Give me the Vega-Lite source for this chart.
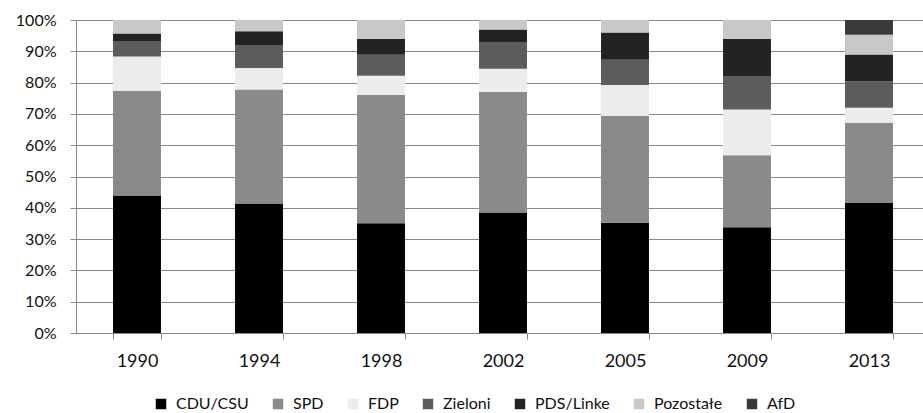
{
  "$schema": "https://vega.github.io/schema/vega-lite/v6.json",
  "autosize": "none",
  "width": 854,
  "height": 313,
  "padding": {"left": 76, "top": 20, "right": 0, "bottom": 80},
  "background": "white",
  "datasets": {
    "partyOrder": [
      {"party": "CDU/CSU", "rank": 1},
      {"party": "SPD", "rank": 2},
      {"party": "FDP", "rank": 3},
      {"party": "Zieloni", "rank": 4},
      {"party": "PDS/Linke", "rank": 5},
      {"party": "Pozostałe", "rank": 6},
      {"party": "AfD", "rank": 7}
    ]
  },
  "data": {
    "values": [
      {"year": "1990", "party": "CDU/CSU", "share": 43.8},
      {"year": "1990", "party": "SPD", "share": 33.5},
      {"year": "1990", "party": "FDP", "share": 11.0},
      {"year": "1990", "party": "Zieloni", "share": 5.0},
      {"year": "1990", "party": "PDS/Linke", "share": 2.4},
      {"year": "1990", "party": "Pozostałe", "share": 4.3},
      {"year": "1994", "party": "CDU/CSU", "share": 41.4},
      {"year": "1994", "party": "SPD", "share": 36.4},
      {"year": "1994", "party": "FDP", "share": 6.9},
      {"year": "1994", "party": "Zieloni", "share": 7.3},
      {"year": "1994", "party": "PDS/Linke", "share": 4.4},
      {"year": "1994", "party": "Pozostałe", "share": 3.6},
      {"year": "1998", "party": "CDU/CSU", "share": 35.1},
      {"year": "1998", "party": "SPD", "share": 40.9},
      {"year": "1998", "party": "FDP", "share": 6.2},
      {"year": "1998", "party": "Zieloni", "share": 6.7},
      {"year": "1998", "party": "PDS/Linke", "share": 5.1},
      {"year": "1998", "party": "Pozostałe", "share": 6.0},
      {"year": "2002", "party": "CDU/CSU", "share": 38.5},
      {"year": "2002", "party": "SPD", "share": 38.5},
      {"year": "2002", "party": "FDP", "share": 7.4},
      {"year": "2002", "party": "Zieloni", "share": 8.6},
      {"year": "2002", "party": "PDS/Linke", "share": 4.0},
      {"year": "2002", "party": "Pozostałe", "share": 3.0},
      {"year": "2005", "party": "CDU/CSU", "share": 35.2},
      {"year": "2005", "party": "SPD", "share": 34.2},
      {"year": "2005", "party": "FDP", "share": 9.8},
      {"year": "2005", "party": "Zieloni", "share": 8.1},
      {"year": "2005", "party": "PDS/Linke", "share": 8.7},
      {"year": "2005", "party": "Pozostałe", "share": 4.0},
      {"year": "2009", "party": "CDU/CSU", "share": 33.8},
      {"year": "2009", "party": "SPD", "share": 23.0},
      {"year": "2009", "party": "FDP", "share": 14.6},
      {"year": "2009", "party": "Zieloni", "share": 10.7},
      {"year": "2009", "party": "PDS/Linke", "share": 11.9},
      {"year": "2009", "party": "Pozostałe", "share": 6.0},
      {"year": "2013", "party": "CDU/CSU", "share": 41.5},
      {"year": "2013", "party": "SPD", "share": 25.7},
      {"year": "2013", "party": "FDP", "share": 4.8},
      {"year": "2013", "party": "Zieloni", "share": 8.4},
      {"year": "2013", "party": "PDS/Linke", "share": 8.6},
      {"year": "2013", "party": "Pozostałe", "share": 6.3},
      {"year": "2013", "party": "AfD", "share": 4.7}
    ]
  },
  "transform": [
    {"lookup": "party", "from": {"data": {"name": "partyOrder"}, "key": "party", "fields": ["rank"]}}
  ],
  "mark": {"type": "bar"},
  "encoding": {
    "x": {
      "field": "year",
      "type": "ordinal",
      "scale": {"paddingInner": 0.607, "paddingOuter": 0.3035},
      "axis": {
        "title": null,
        "labelAngle": 0,
        "tickBand": "extent",
        "tickSize": 6,
        "tickColor": "#888888",
        "domainColor": "#888888",
        "labelFontSize": 18,
        "labelPadding": 13,
        "labelColor": "#111111",
        "labelFont": "Lato"
      }
    },
    "y": {
      "field": "share",
      "type": "quantitative",
      "stack": "normalize",
      "scale": {"domain": [0, 1]},
      "axis": {
        "title": null,
        "format": ".0%",
        "values": [0, 0.1, 0.2, 0.3, 0.4, 0.5, 0.6, 0.7, 0.8, 0.9, 1],
        "tickSize": 6,
        "tickColor": "#888888",
        "domainColor": "#888888",
        "gridColor": "#888888",
        "gridOpacity": 1,
        "labelFontSize": 16,
        "labelPadding": 14,
        "labelColor": "#111111",
        "labelFont": "Lato"
      }
    },
    "color": {
      "field": "party",
      "type": "nominal",
      "sort": ["CDU/CSU", "SPD", "FDP", "Zieloni", "PDS/Linke", "Pozostałe", "AfD"],
      "scale": {
        "domain": ["CDU/CSU", "SPD", "FDP", "Zieloni", "PDS/Linke", "Pozostałe", "AfD"],
        "range": ["#000000", "#8a8a8a", "#ececec", "#5c5c5c", "#232323", "#c8c8c8", "#3a3a3a"]
      },
      "legend": {
        "title": null,
        "orient": "none",
        "direction": "horizontal",
        "legendX": 77,
        "legendY": 376,
        "symbolType": "square",
        "symbolSize": 110,
        "symbolStrokeWidth": 0,
        "labelFontSize": 16,
        "labelFont": "Lato",
        "labelColor": "#111111",
        "labelOffset": 7,
        "labelLimit": 0,
        "columnPadding": 21
      }
    },
    "order": {"field": "rank", "type": "quantitative", "sort": "ascending"}
  },
  "config": {"view": {"stroke": null}, "axis": {"gridWidth": 1}}
}
